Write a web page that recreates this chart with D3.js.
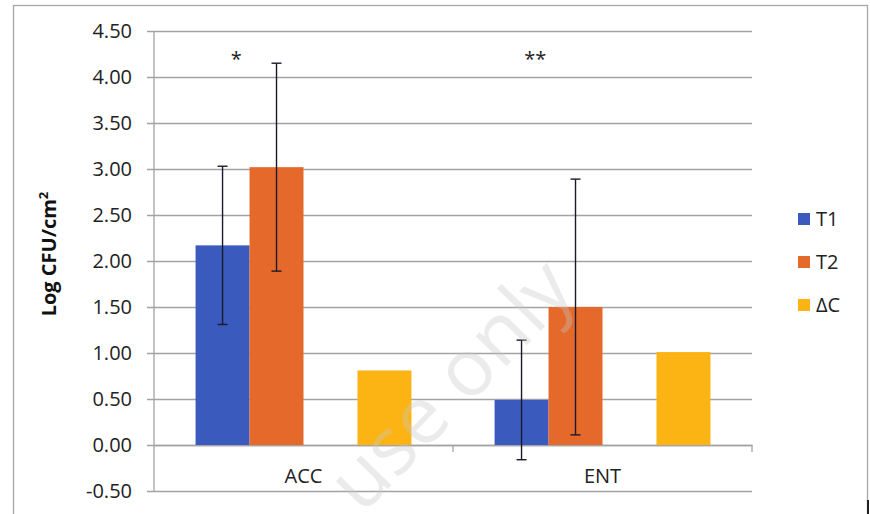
<!DOCTYPE html>
<html>
<head>
<meta charset="utf-8">
<script src="https://cdn.jsdelivr.net/npm/d3@7"></script>
<style>
  body { margin: 0; background: #fff; }
  svg { display: block; font-family: "Open Sans", "Liberation Sans", sans-serif; }
</style>
</head>
<body>
<div id="chart"></div>
<script>
// --- data ---
const categories = ["ACC", "ENT"];
const series = ["T1", "T2", "ΔC"];
const means = {
  T1: [2.17, 0.49],
  T2: [3.02, 1.50],
  "ΔC": [0.81, 1.01]
};
const errors = {
  T1: [0.86, 0.65],
  T2: [1.13, 1.39]
};
const yTicks = [-0.5, 0, 0.5, 1, 1.5, 2, 2.5, 3, 3.5, 4, 4.5];
const marks = [
  { cat: "ACC", label: "*", value: 4.12 },
  { cat: "ENT", label: "**", value: 4.12 }
];
const colors = { T1: "#3a5bbd", T2: "#e4692a", "ΔC": "#fcb414" };

// --- layout ---
const W = 870, H = 514;
const plot = { left: 154, right: 752, top: 31, bottom: 491 };

const svg = d3.select("#chart").append("svg")
  .attr("width", W).attr("height", H);

// outer frame
svg.append("rect")
  .attr("x", 13.5).attr("y", 5.5)
  .attr("width", 854).attr("height", 530)
  .attr("fill", "#fff").attr("stroke", "#a6a6a6").attr("stroke-width", 1.3);
svg.append("line")
  .attr("x1", 868).attr("x2", 868).attr("y1", 500).attr("y2", 514)
  .attr("stroke", "#222").attr("stroke-width", 2);

// scales
const y = d3.scaleLinear().domain([-0.5, 4.5]).range([plot.bottom, plot.top]);
const x0 = d3.scaleBand().domain(categories).range([plot.left, plot.right]).padding(0);
const bw = x0.bandwidth();
const edge = bw * 0.139;
// the third slot is left empty, as in the original chart
const x1 = d3.scaleBand().domain(["T1", "T2", "gap", "ΔC"]).range([edge, bw - edge]).padding(0);

// y axis with gridlines
const yAxis = d3.axisLeft(y)
  .tickValues(yTicks)
  .tickFormat(d => d.toFixed(2))
  .tickSize(-(plot.right - plot.left + 7))
  .tickPadding(15);

const gy = svg.append("g")
  .attr("transform", `translate(${plot.left - 7},0)`)
  .call(yAxis);
gy.select(".domain").remove();
gy.selectAll(".tick line").attr("stroke", "#a3a3a3").attr("stroke-width", 1.3);
gy.selectAll(".tick text")
  .attr("fill", "#222")
  .style("font-size", "20px")
  .style("font-family", "'Open Sans', sans-serif");

// vertical axis line
svg.append("line")
  .attr("x1", plot.left).attr("x2", plot.left)
  .attr("y1", plot.top).attr("y2", plot.bottom)
  .attr("stroke", "#a3a3a3").attr("stroke-width", 1.3);

// category axis at zero
const xAxis = d3.axisBottom(x0).tickSize(0).tickPadding(24);
const gx = svg.append("g")
  .attr("transform", `translate(0,${y(0)})`)
  .call(xAxis);
gx.select(".domain").attr("stroke", "#a3a3a3").attr("stroke-width", 1.3);
gx.selectAll(".tick text")
  .attr("fill", "#222")
  .style("font-size", "20px")
  .style("font-family", "'Open Sans', sans-serif");

// boundary ticks between categories
gx.selectAll(".bound")
  .data(categories)
  .enter().append("line")
  .attr("class", "bound")
  .attr("x1", d => x0(d) + bw).attr("x2", d => x0(d) + bw)
  .attr("y1", 0).attr("y2", 7)
  .attr("stroke", "#a3a3a3").attr("stroke-width", 1.3);

// y axis title
svg.append("text")
  .attr("transform", `translate(56,254) rotate(-90)`)
  .attr("text-anchor", "middle")
  .style("font-size", "20px")
  .style("font-weight", "bold")
  .attr("fill", "#111")
  .html('Log CFU/cm<tspan dy="-8" font-size="13">2</tspan>');

// bars
const groups = svg.selectAll(".cat")
  .data(categories)
  .enter().append("g")
  .attr("class", "cat")
  .attr("transform", d => `translate(${x0(d)},0)`);

groups.selectAll("rect")
  .data((c, ci) => series.map(s => ({ s, v: means[s][ci] })))
  .enter().append("rect")
  .attr("x", d => x1(d.s))
  .attr("width", x1.bandwidth())
  .attr("y", d => y(Math.max(0, d.v)))
  .attr("height", d => Math.abs(y(d.v) - y(0)))
  .attr("fill", d => colors[d.s]);

// error bars
const errData = [];
categories.forEach((c, ci) => {
  Object.keys(errors).forEach(s => {
    errData.push({ c, s, v: means[s][ci], e: errors[s][ci] });
  });
});
const eb = svg.selectAll(".err")
  .data(errData)
  .enter().append("g")
  .attr("class", "err")
  .attr("stroke", "#1a1a2a")
  .attr("stroke-width", 1.4);
const cx = d => x0(d.c) + x1(d.s) + x1.bandwidth() / 2;
eb.append("line")
  .attr("x1", cx).attr("x2", cx)
  .attr("y1", d => y(d.v + d.e)).attr("y2", d => y(d.v - d.e));
eb.append("line")
  .attr("x1", d => cx(d) - 5).attr("x2", d => cx(d) + 5)
  .attr("y1", d => y(d.v + d.e)).attr("y2", d => y(d.v + d.e));
eb.append("line")
  .attr("x1", d => cx(d) - 5).attr("x2", d => cx(d) + 5)
  .attr("y1", d => y(d.v - d.e)).attr("y2", d => y(d.v - d.e));

// significance marks
svg.selectAll(".sig")
  .data(marks)
  .enter().append("text")
  .attr("class", "sig")
  .attr("x", d => x0(d.cat) + bw * 0.275)
  .attr("y", d => y(d.value))
  .attr("text-anchor", "middle")
  .style("font-size", "20px")
  .attr("fill", "#222")
  .text(d => d.label);

// legend
const legend = svg.append("g").attr("transform", "translate(798,219)");
const li = legend.selectAll(".li")
  .data(series)
  .enter().append("g")
  .attr("class", "li")
  .attr("transform", (d, i) => `translate(0,${i * 43})`);
li.append("rect")
  .attr("x", 0).attr("y", -6)
  .attr("width", 12).attr("height", 12)
  .attr("fill", d => colors[d]);
li.append("text")
  .attr("x", 18).attr("y", 0)
  .attr("dy", "0.35em")
  .style("font-size", "20px")
  .attr("fill", "#222")
  .text(d => d);

// faint watermark
svg.append("text")
  .attr("transform", "translate(470,404) rotate(-46)")
  .attr("text-anchor", "middle")
  .style("font-size", "80px")
  .attr("fill", "#c8c8c8")
  .attr("opacity", 0.35)
  .text("use only");
</script>
</body>
</html>
